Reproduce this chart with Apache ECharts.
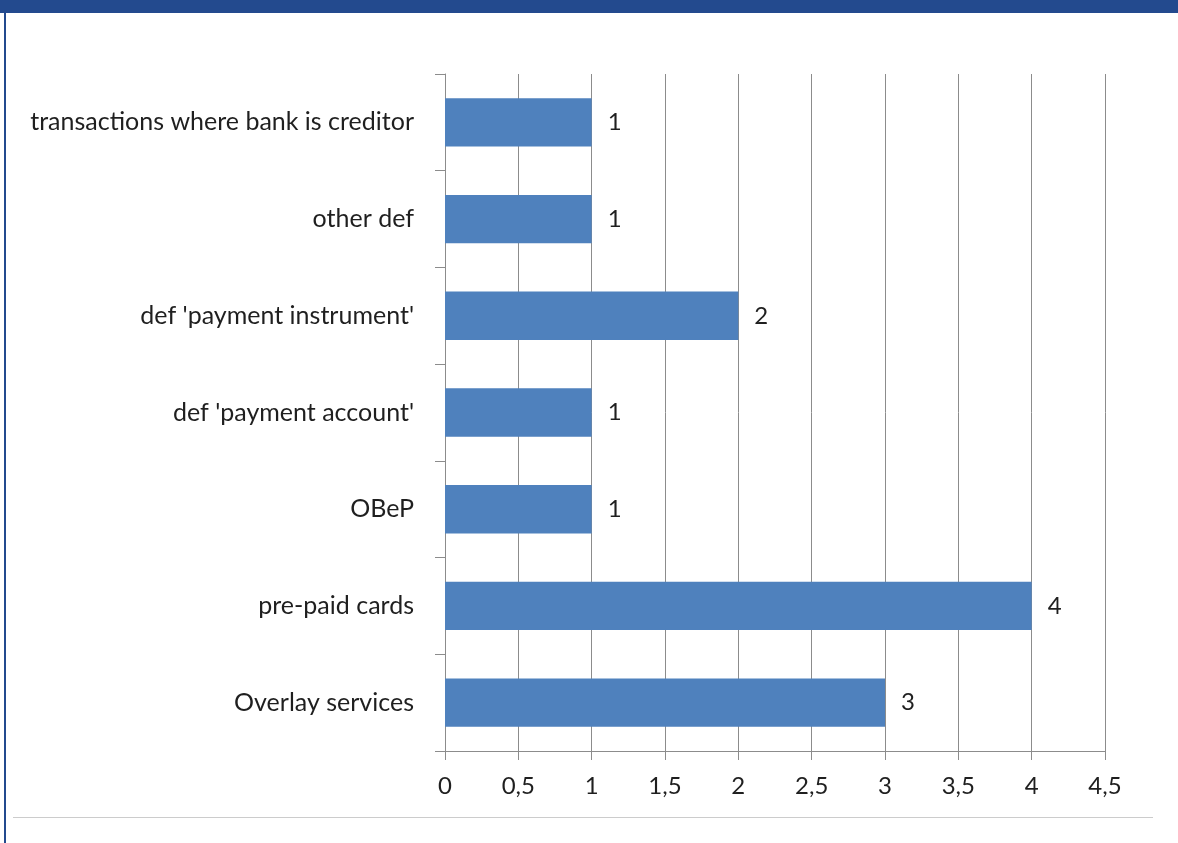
<!DOCTYPE html>
<html>
<head>
<meta charset="utf-8">
<script src="https://cdn.jsdelivr.net/npm/echarts@6/dist/echarts.min.js"></script>
<style>
  html, body { margin: 0; padding: 0; background: #fff; }
  #chart { width: 1178px; height: 843px; }
</style>
</head>
<body>
<div id="chart"></div>
<script>
// Categories listed bottom to top (category axis starts at the bottom)
const categories = [
  'Overlay services',
  'pre-paid cards',
  'OBeP',
  "def 'payment account'",
  "def 'payment instrument'",
  'other def',
  'transactions where bank is creditor'
];
const counts = [3, 4, 1, 1, 2, 1, 1];
const axisMin = 0;
const axisMax = 4.5;
const axisStep = 0.5;

const font = 'Lato, "Open Sans", sans-serif';
const grey = '#8c8c8c';
const ink = '#1f1f1f';

const chart = echarts.init(document.getElementById('chart'), null, { renderer: 'canvas' });
chart.setOption({
  backgroundColor: '#ffffff',
  animation: false,
  textStyle: { fontFamily: font },
  graphic: [
    { type: 'rect', shape: { x: 0, y: 0, width: 1178, height: 13 }, style: { fill: '#234a8e' } },
    { type: 'rect', shape: { x: 4, y: 13, width: 2, height: 830 }, style: { fill: '#234a8e' } },
    { type: 'line', shape: { x1: 13, y1: 817.5, x2: 1153, y2: 817.5 }, style: { stroke: '#cccccc', lineWidth: 1 } }
  ],
  grid: { left: 445, right: 73, top: 74, bottom: 92, containLabel: false },
  xAxis: {
    type: 'value',
    min: axisMin,
    max: axisMax,
    interval: axisStep,
    axisLine: { show: true, lineStyle: { color: grey, width: 1 } },
    axisTick: { show: true, length: 9, lineStyle: { color: grey } },
    splitLine: { show: true, lineStyle: { color: grey, width: 1 } },
    axisLabel: {
      margin: 23,
      fontSize: 24,
      color: ink,
      fontFamily: font,
      formatter: v => String(v).replace('.', ',')
    }
  },
  yAxis: {
    type: 'category',
    data: categories,
    boundaryGap: true,
    axisLine: { show: true, lineStyle: { color: grey, width: 1 } },
    axisTick: { show: true, length: 10, alignWithLabel: false, lineStyle: { color: grey } },
    splitLine: { show: false },
    axisLabel: { margin: 31, fontSize: 25, color: ink, fontFamily: font, padding: [4, 0, 0, 0] }
  },
  series: [{
    type: 'bar',
    data: counts,
    barWidth: '50%',
    itemStyle: { color: '#4f81bd' },
    label: {
      show: true,
      position: 'right',
      distance: 16,
      fontSize: 24,
      color: ink,
      fontFamily: font,
      padding: [4, 0, 0, 0]
    }
  }]
});
</script>
</body>
</html>
